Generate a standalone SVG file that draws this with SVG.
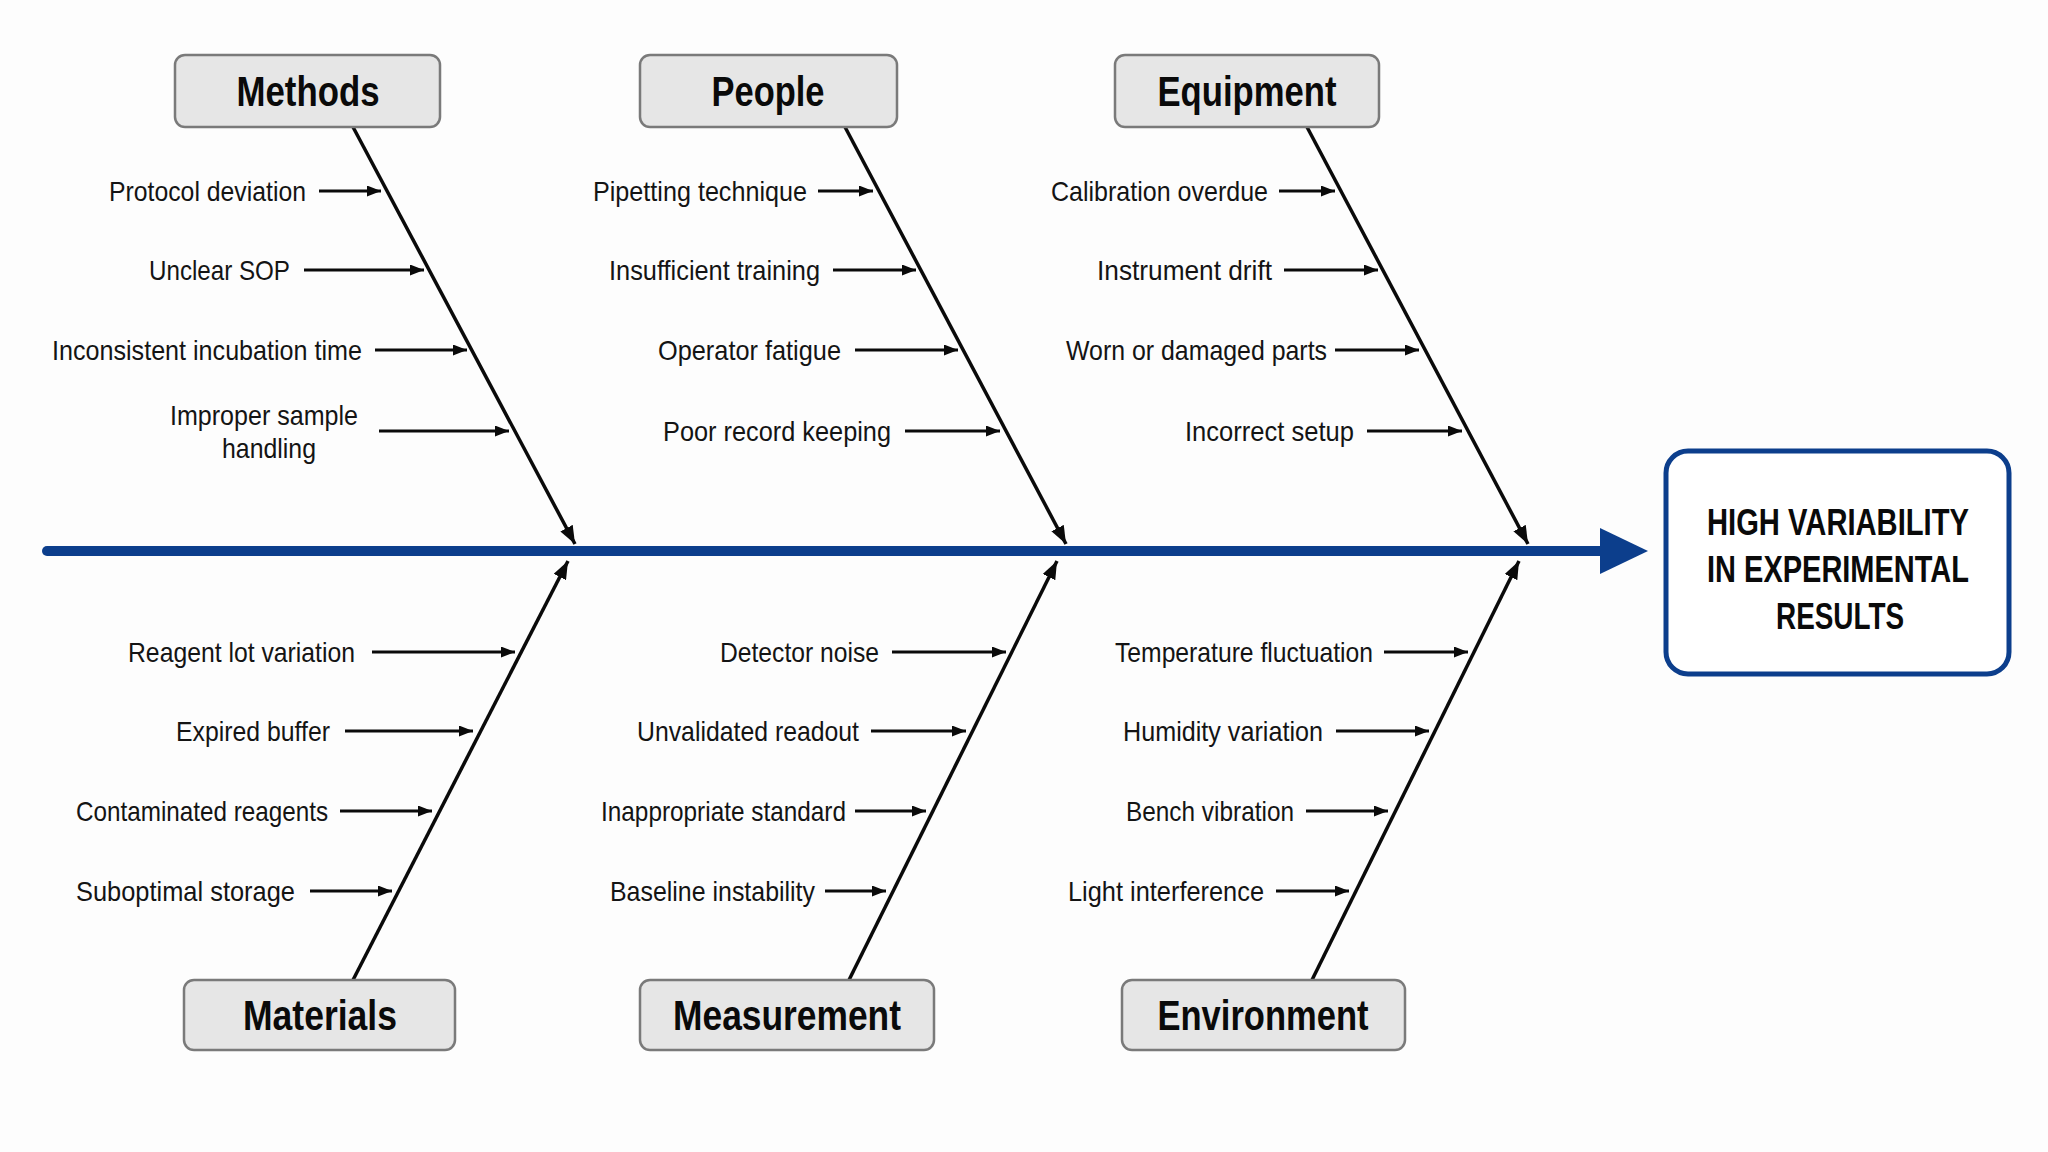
<svg xmlns="http://www.w3.org/2000/svg" width="2048" height="1152" viewBox="0 0 2048 1152">
  <style>
    .cat rect { fill: #e6e6e6; stroke: #7a7a7a; stroke-width: 2.5; }
    .cat text { font-family: "Liberation Sans", Arial, sans-serif; font-weight: bold; font-size: 42px; fill: #0a0a0a; text-anchor: middle; }
    .lbl { font-family: "Liberation Sans", Arial, sans-serif; font-size: 28px; fill: #141414; text-anchor: end; }
    .lblc { font-family: "Liberation Sans", Arial, sans-serif; font-size: 28px; fill: #141414; text-anchor: middle; }
    .bone { stroke: #0a0a0a; stroke-width: 3.5; fill: none; marker-end: url(#bigArrow); }
    .sub { stroke: #0a0a0a; stroke-width: 2.8; fill: none; marker-end: url(#smallArrow); }
    .effect text { font-family: "Liberation Sans", Arial, sans-serif; font-weight: bold; font-size: 37px; fill: #0a0a0a; text-anchor: middle; }
  </style>
  <defs>
    <marker id="smallArrow" viewBox="0 0 14 11" refX="14" refY="5.5" markerWidth="14" markerHeight="11" markerUnits="userSpaceOnUse" orient="auto">
      <path d="M0,0 L14,5.5 L0,11 Z" fill="#0a0a0a"/>
    </marker>
    <marker id="bigArrow" viewBox="0 0 18 14" refX="18" refY="7" markerWidth="18" markerHeight="14" markerUnits="userSpaceOnUse" orient="auto">
      <path d="M0,0 L18,7 L0,14 Z" fill="#0a0a0a"/>
    </marker>
  </defs>
  <rect x="0" y="0" width="2048" height="1152" fill="#fdfdfd"/>

  <g id="connectors">
    <!-- spine -->
    <line x1="47" y1="551" x2="1606" y2="551" stroke="#0c3e8c" stroke-width="10" stroke-linecap="round"/>
    <polygon points="1600,528 1648,551 1600,574" fill="#0c3e8c"/>
    <!-- main bones -->
    <line class="bone" x1="353" y1="127" x2="575" y2="544"/>
    <line class="bone" x1="845" y1="127" x2="1066" y2="544"/>
    <line class="bone" x1="1307" y1="127" x2="1528" y2="544"/>
    <line class="bone" x1="353" y1="980" x2="568" y2="561"/>
    <line class="bone" x1="849" y1="980" x2="1057" y2="561"/>
    <line class="bone" x1="1312" y1="980" x2="1519" y2="561"/>
    <!-- Methods sub-causes -->
    <line class="sub" x1="319" y1="191" x2="381" y2="191"/>
    <line class="sub" x1="304" y1="270" x2="424" y2="270"/>
    <line class="sub" x1="375" y1="350" x2="467" y2="350"/>
    <line class="sub" x1="379" y1="431" x2="509" y2="431"/>
    <!-- People sub-causes -->
    <line class="sub" x1="818" y1="191" x2="873" y2="191"/>
    <line class="sub" x1="833" y1="270" x2="916" y2="270"/>
    <line class="sub" x1="855" y1="350" x2="958" y2="350"/>
    <line class="sub" x1="905" y1="431" x2="1000" y2="431"/>
    <!-- Equipment sub-causes -->
    <line class="sub" x1="1279" y1="191" x2="1335" y2="191"/>
    <line class="sub" x1="1284" y1="270" x2="1378" y2="270"/>
    <line class="sub" x1="1335" y1="350" x2="1419" y2="350"/>
    <line class="sub" x1="1367" y1="431" x2="1462" y2="431"/>
    <!-- Materials sub-causes -->
    <line class="sub" x1="372" y1="652" x2="515" y2="652"/>
    <line class="sub" x1="345" y1="731" x2="473" y2="731"/>
    <line class="sub" x1="340" y1="811" x2="432" y2="811"/>
    <line class="sub" x1="310" y1="891" x2="392" y2="891"/>
    <!-- Measurement sub-causes -->
    <line class="sub" x1="892" y1="652" x2="1006" y2="652"/>
    <line class="sub" x1="871" y1="731" x2="966" y2="731"/>
    <line class="sub" x1="855" y1="811" x2="926" y2="811"/>
    <line class="sub" x1="825" y1="891" x2="886" y2="891"/>
    <!-- Environment sub-causes -->
    <line class="sub" x1="1384" y1="652" x2="1468" y2="652"/>
    <line class="sub" x1="1336" y1="731" x2="1429" y2="731"/>
    <line class="sub" x1="1306" y1="811" x2="1388" y2="811"/>
    <line class="sub" x1="1276" y1="891" x2="1349" y2="891"/>
  </g>

  <g id="methods" class="cat">
    <rect x="175" y="55" width="265" height="72" rx="10"/>
    <text x="308" y="106" textLength="143" lengthAdjust="spacingAndGlyphs">Methods</text>
  </g>
  <g id="people" class="cat">
    <rect x="640" y="55" width="257" height="72" rx="10"/>
    <text x="768" y="106" textLength="113" lengthAdjust="spacingAndGlyphs">People</text>
  </g>
  <g id="equipment" class="cat">
    <rect x="1115" y="55" width="264" height="72" rx="10"/>
    <text x="1247" y="106" textLength="179" lengthAdjust="spacingAndGlyphs">Equipment</text>
  </g>
  <g id="materials" class="cat">
    <rect x="184" y="980" width="271" height="70" rx="10"/>
    <text x="320" y="1030" textLength="154" lengthAdjust="spacingAndGlyphs">Materials</text>
  </g>
  <g id="measurement" class="cat">
    <rect x="640" y="980" width="294" height="70" rx="10"/>
    <text x="787" y="1030" textLength="228" lengthAdjust="spacingAndGlyphs">Measurement</text>
  </g>
  <g id="environment" class="cat">
    <rect x="1122" y="980" width="283" height="70" rx="10"/>
    <text x="1263" y="1030" textLength="211" lengthAdjust="spacingAndGlyphs">Environment</text>
  </g>

  <g id="effect" class="effect">
    <rect x="1666" y="451" width="343" height="223" rx="22" fill="#ffffff" stroke="#0c3e8c" stroke-width="5"/>
    <text x="1838" y="535" textLength="262" lengthAdjust="spacingAndGlyphs">HIGH VARIABILITY</text>
    <text x="1838" y="582" textLength="262" lengthAdjust="spacingAndGlyphs">IN EXPERIMENTAL</text>
    <text x="1840" y="629" textLength="128" lengthAdjust="spacingAndGlyphs">RESULTS</text>
  </g>

  <g id="methods-causes">
    <text class="lbl" x="306" y="201" textLength="197" lengthAdjust="spacingAndGlyphs">Protocol deviation</text>
    <text class="lbl" x="290" y="280" textLength="141" lengthAdjust="spacingAndGlyphs">Unclear SOP</text>
    <text class="lbl" x="362" y="360" textLength="310" lengthAdjust="spacingAndGlyphs">Inconsistent incubation time</text>
    <text class="lblc" x="264" y="425" textLength="188" lengthAdjust="spacingAndGlyphs">Improper sample</text>
    <text class="lblc" x="269" y="458" textLength="94" lengthAdjust="spacingAndGlyphs">handling</text>
  </g>
  <g id="people-causes">
    <text class="lbl" x="807" y="201" textLength="214" lengthAdjust="spacingAndGlyphs">Pipetting technique</text>
    <text class="lbl" x="820" y="280" textLength="211" lengthAdjust="spacingAndGlyphs">Insufficient training</text>
    <text class="lbl" x="841" y="360" textLength="183" lengthAdjust="spacingAndGlyphs">Operator fatigue</text>
    <text class="lbl" x="891" y="441" textLength="228" lengthAdjust="spacingAndGlyphs">Poor record keeping</text>
  </g>
  <g id="equipment-causes">
    <text class="lbl" x="1268" y="201" textLength="217" lengthAdjust="spacingAndGlyphs">Calibration overdue</text>
    <text class="lbl" x="1272" y="280" textLength="175" lengthAdjust="spacingAndGlyphs">Instrument drift</text>
    <text class="lbl" x="1327" y="360" textLength="261" lengthAdjust="spacingAndGlyphs">Worn or damaged parts</text>
    <text class="lbl" x="1354" y="441" textLength="169" lengthAdjust="spacingAndGlyphs">Incorrect setup</text>
  </g>
  <g id="materials-causes">
    <text class="lbl" x="355" y="662" textLength="227" lengthAdjust="spacingAndGlyphs">Reagent lot variation</text>
    <text class="lbl" x="330" y="741" textLength="154" lengthAdjust="spacingAndGlyphs">Expired buffer</text>
    <text class="lbl" x="328" y="821" textLength="252" lengthAdjust="spacingAndGlyphs">Contaminated reagents</text>
    <text class="lbl" x="295" y="901" textLength="219" lengthAdjust="spacingAndGlyphs">Suboptimal storage</text>
  </g>
  <g id="measurement-causes">
    <text class="lbl" x="879" y="662" textLength="159" lengthAdjust="spacingAndGlyphs">Detector noise</text>
    <text class="lbl" x="859" y="741" textLength="222" lengthAdjust="spacingAndGlyphs">Unvalidated readout</text>
    <text class="lbl" x="846" y="821" textLength="245" lengthAdjust="spacingAndGlyphs">Inappropriate standard</text>
    <text class="lbl" x="815" y="901" textLength="205" lengthAdjust="spacingAndGlyphs">Baseline instability</text>
  </g>
  <g id="environment-causes">
    <text class="lbl" x="1373" y="662" textLength="258" lengthAdjust="spacingAndGlyphs">Temperature fluctuation</text>
    <text class="lbl" x="1323" y="741" textLength="200" lengthAdjust="spacingAndGlyphs">Humidity variation</text>
    <text class="lbl" x="1294" y="821" textLength="168" lengthAdjust="spacingAndGlyphs">Bench vibration</text>
    <text class="lbl" x="1264" y="901" textLength="196" lengthAdjust="spacingAndGlyphs">Light interference</text>
  </g>
</svg>
